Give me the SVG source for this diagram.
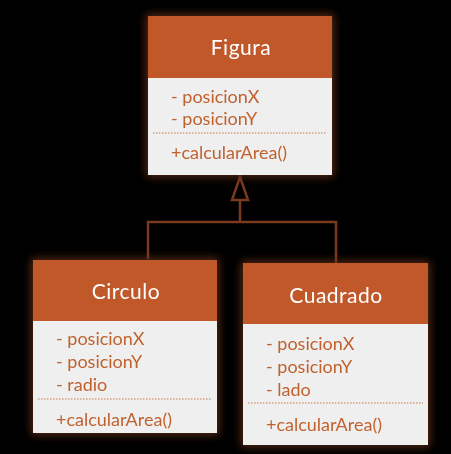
<svg xmlns="http://www.w3.org/2000/svg" width="451" height="454" viewBox="0 0 451 454">
<defs>
<filter id="glow" x="-20%" y="-20%" width="140%" height="140%">
<feMorphology in="SourceAlpha" operator="dilate" radius="2" result="d"/>
<feGaussianBlur in="d" stdDeviation="4" result="b"/>
<feFlood flood-color="#5e2c16" flood-opacity="0.9"/>
<feComposite in2="b" operator="in" result="g"/>
<feMerge><feMergeNode in="g"/><feMergeNode in="SourceGraphic"/></feMerge>
</filter>
</defs>
<style>
.hd{fill:#c0582c}
.bd{fill:#efefef}
.sep{stroke:#c8744a;stroke-width:1;stroke-dasharray:1.5 1.5}
.t{font-family:Lato,"Open Sans",sans-serif;font-size:21px;fill:#ffffff;text-anchor:middle;letter-spacing:0.5px}
.a{font-family:Lato,"Open Sans",sans-serif;font-size:18px;fill:#c0622f}
.c{fill:none;stroke:#7a3a1d;stroke-width:2.5}
</style>
<rect width="451" height="454" fill="#000000"/>
<g id="connectors">
<polyline class="c" points="148,259 148,222 336,222 336,263"/>
<line class="c" x1="240" y1="222" x2="240" y2="200"/>
<polygon class="c" points="240,177 248,200 232,200" stroke-linejoin="miter"/>
</g>
<g id="figura" filter="url(#glow)">
<rect class="bd" x="148" y="16" width="184" height="159"/>
<rect class="hd" x="148" y="16" width="184" height="62"/>
<line class="sep" x1="153" y1="133" x2="327" y2="133"/>
<text class="t" x="241" y="55">Figura</text>
<text class="a" x="171" y="103">- posicionX</text>
<text class="a" x="171" y="125">- posicionY</text>
<text class="a" x="171" y="159">+calcularArea()</text>
</g>
<g id="circulo" filter="url(#glow)">
<rect class="bd" x="33" y="260" width="184" height="173"/>
<rect class="hd" x="33" y="260" width="184" height="61"/>
<line class="sep" x1="38" y1="399" x2="212" y2="399"/>
<text class="t" x="126" y="299">Circulo</text>
<text class="a" x="56" y="345">- posicionX</text>
<text class="a" x="56" y="368">- posicionY</text>
<text class="a" x="56" y="391">- radio</text>
<text class="a" x="56" y="426">+calcularArea()</text>
</g>
<g id="cuadrado" filter="url(#glow)">
<rect class="bd" x="243" y="263" width="185" height="182"/>
<rect class="hd" x="243" y="263" width="185" height="61"/>
<line class="sep" x1="248" y1="403" x2="423" y2="403"/>
<text class="t" x="336" y="303">Cuadrado</text>
<text class="a" x="266" y="350">- posicionX</text>
<text class="a" x="266" y="373">- posicionY</text>
<text class="a" x="266" y="396">- lado</text>
<text class="a" x="266" y="431">+calcularArea()</text>
</g>
</svg>
